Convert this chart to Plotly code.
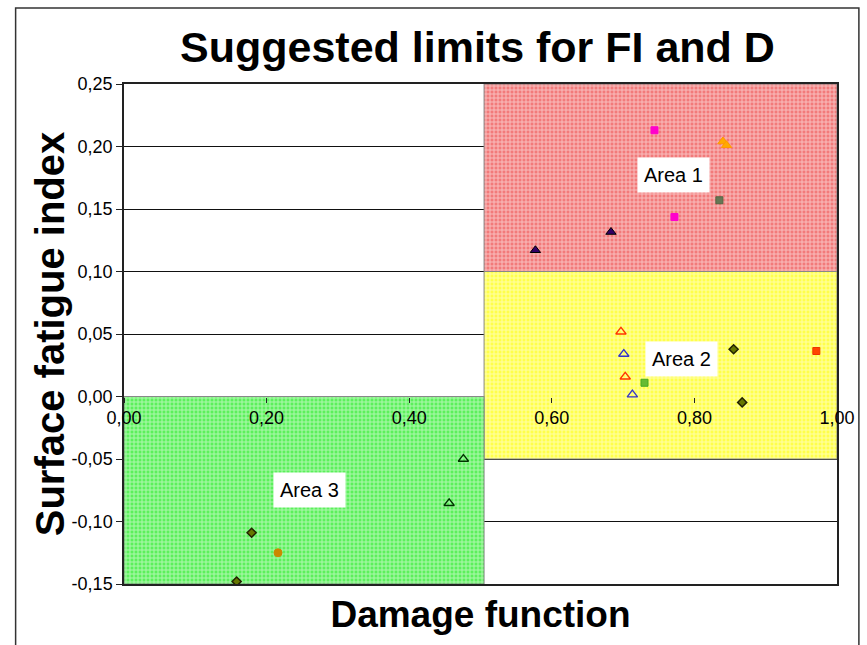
import plotly.graph_objects as go

# Limit regions (damage function D on x, surface fatigue index FI on y)
area1_x = [0.505, 1.0]
area1_y = [0.10, 0.25]
area2_x = [0.505, 1.0]
area2_y = [-0.05, 0.10]
area3_x = [0.0, 0.505]
area3_y = [-0.15, 0.0]

# Measured points, one list pair per series
s1_x = [0.577, 0.683]
s1_y = [0.117, 0.1316]
s2_x = [0.744, 0.772]
s2_y = [0.213, 0.1436]
s3_x = [0.840, 0.845]
s3_y = [0.204, 0.201]
s4_x = [0.835]
s4_y = [0.157]
s5_x = [0.697, 0.703]
s5_y = [0.0518, 0.0158]
s6_x = [0.701, 0.713]
s6_y = [0.034, 0.0015]
s7_x = [0.730]
s7_y = [0.011]
s8_x = [0.855, 0.867, 0.158, 0.179]
s8_y = [0.0378, -0.0047, -0.148, -0.109]
s9_x = [0.971]
s9_y = [0.0364]
s10_x = [0.476, 0.456]
s10_y = [-0.050, -0.0854]
s11_x = [0.216]
s11_y = [-0.125]

x_ticks = [0.0, 0.2, 0.4, 0.6, 0.8, 1.0]
x_tick_text = ["0,00", "0,20", "0,40", "0,60", "0,80", "1,00"]
y_ticks = [-0.15, -0.10, -0.05, 0.0, 0.05, 0.10, 0.15, 0.20, 0.25]
y_tick_text = ["-0,15", "-0,10", "-0,05", "0,00", "0,05", "0,10", "0,15", "0,20", "0,25"]

FONT = "Liberation Sans, Arial, sans-serif"
X_RANGE = [0, 1]
Y_RANGE = [-0.15, 0.25]


def region(xs, ys, bg, fg):
    x0, x1 = xs
    y0, y1 = ys
    return go.Scatter(
        x=[x0, x1, x1, x0, x0], y=[y0, y0, y1, y1, y0],
        mode="lines", fill="toself",
        line=dict(color="#888888", width=1),
        fillcolor=bg,
        fillpattern=dict(shape="+", bgcolor=bg, fgcolor=fg, size=4, solidity=0.45),
        hoverinfo="skip", showlegend=False, xaxis="x", yaxis="y",
    )


def pts(xs, ys, symbol, color, line_color, size=8, line_width=1):
    return go.Scatter(
        x=xs, y=ys, mode="markers",
        marker=dict(symbol=symbol, size=size, color=color,
                    line=dict(color=line_color, width=line_width)),
        showlegend=False, xaxis="x2", yaxis="y2",
    )


fig = go.Figure()
fig.add_trace(region(area1_x, area1_y, "#f27a7a", "#ffffff"))
fig.add_trace(region(area2_x, area2_y, "#ffff4a", "#ffffff"))
fig.add_trace(region(area3_x, area3_y, "#5cf05c", "#ffffff"))

fig.add_trace(pts(s1_x, s1_y, "triangle-up", "#330066", "#000000", size=9))
fig.add_trace(pts(s2_x, s2_y, "square", "#ff00cc", "#ff00cc", size=7))
fig.add_trace(pts(s3_x, s3_y, "triangle-up", "#ffaa00", "#ff9900", size=9))
fig.add_trace(pts(s4_x, s4_y, "square", "#667755", "#556644", size=7))
fig.add_trace(pts(s5_x, s5_y, "triangle-up-open", "#ff3300", "#ff3300", size=9, line_width=1.3))
fig.add_trace(pts(s6_x, s6_y, "triangle-up-open", "#3333cc", "#3333cc", size=9, line_width=1.3))
fig.add_trace(pts(s7_x, s7_y, "square", "#66bb33", "#44aa22", size=7))
fig.add_trace(pts(s8_x, s8_y, "diamond", "#667700", "#222200", size=7, line_width=1.5))
fig.add_trace(pts(s9_x, s9_y, "square", "#ff4400", "#ee3300", size=7))
fig.add_trace(pts(s10_x, s10_y, "triangle-up-open", "#003300", "#003300", size=9, line_width=1.3))
fig.add_trace(pts(s11_x, s11_y, "circle", "#cc8800", "#cc8800", size=8))

label_font = dict(family=FONT, size=20, color="black")
for text, ax, ay in [("Area 1", 0.771, 0.177), ("Area 2", 0.782, 0.030), ("Area 3", 0.260, -0.075)]:
    fig.add_annotation(x=ax, y=ay, xref="x2", yref="y2", text=text, showarrow=False,
                       font=label_font, bgcolor="white", borderpad=6)

# vertical axis title, set close to the tick labels
fig.add_annotation(x=-0.1034, y=0.5, xref="paper", yref="paper", xanchor="center",
                   yanchor="middle", textangle=-90, showarrow=False,
                   text="<b>Surface fatigue index</b>",
                   font=dict(family=FONT, size=40, color="black"))

# outer chart frame
fig.add_shape(type="rect", xref="paper", yref="paper", x0=-0.152, x1=1.0307,
              y0=-0.2, y1=1.152, line=dict(color="#333333", width=1.5), layer="below")

fig.update_layout(
    width=867, height=645,
    margin=dict(l=124, r=27, t=84, b=61),
    paper_bgcolor="white", plot_bgcolor="white",
    font=dict(family=FONT, color="black"),
    title=dict(text="<b>Suggested limits for FI and D</b>", x=0.5507, xanchor="center",
               y=0.927, yanchor="middle", font=dict(family=FONT, size=43, color="black")),
    xaxis=dict(range=X_RANGE, showgrid=False, zeroline=False, showline=True, mirror=True,
               linecolor="#222222", linewidth=1.5, showticklabels=False, ticks="",
               title=dict(text="<b>Damage function</b>", standoff=16,
                          font=dict(family=FONT, size=37, color="black"))),
    yaxis=dict(range=Y_RANGE, showgrid=False, zeroline=False, showline=True, mirror=True,
               linecolor="#222222", linewidth=1.5, tickmode="array", tickvals=y_ticks,
               ticktext=y_tick_text, ticks="outside", ticklen=6, tickcolor="#222222",
               tickfont=dict(family=FONT, size=18, color="black")),
    xaxis2=dict(range=X_RANGE, overlaying="x", anchor="free", position=0.375,
                showgrid=False, zeroline=False, showline=False, tickmode="array",
                tickvals=x_ticks, ticktext=x_tick_text, ticks="outside", ticklen=5,
                tickcolor="#222222", tickfont=dict(family=FONT, size=18, color="black")),
    yaxis2=dict(range=Y_RANGE, overlaying="y", anchor="x", showgrid=True,
                gridcolor="#111111", gridwidth=1, zeroline=False, showline=False,
                tickmode="array", tickvals=y_ticks, showticklabels=False, ticks=""),
)

fig.write_html("out.html")
